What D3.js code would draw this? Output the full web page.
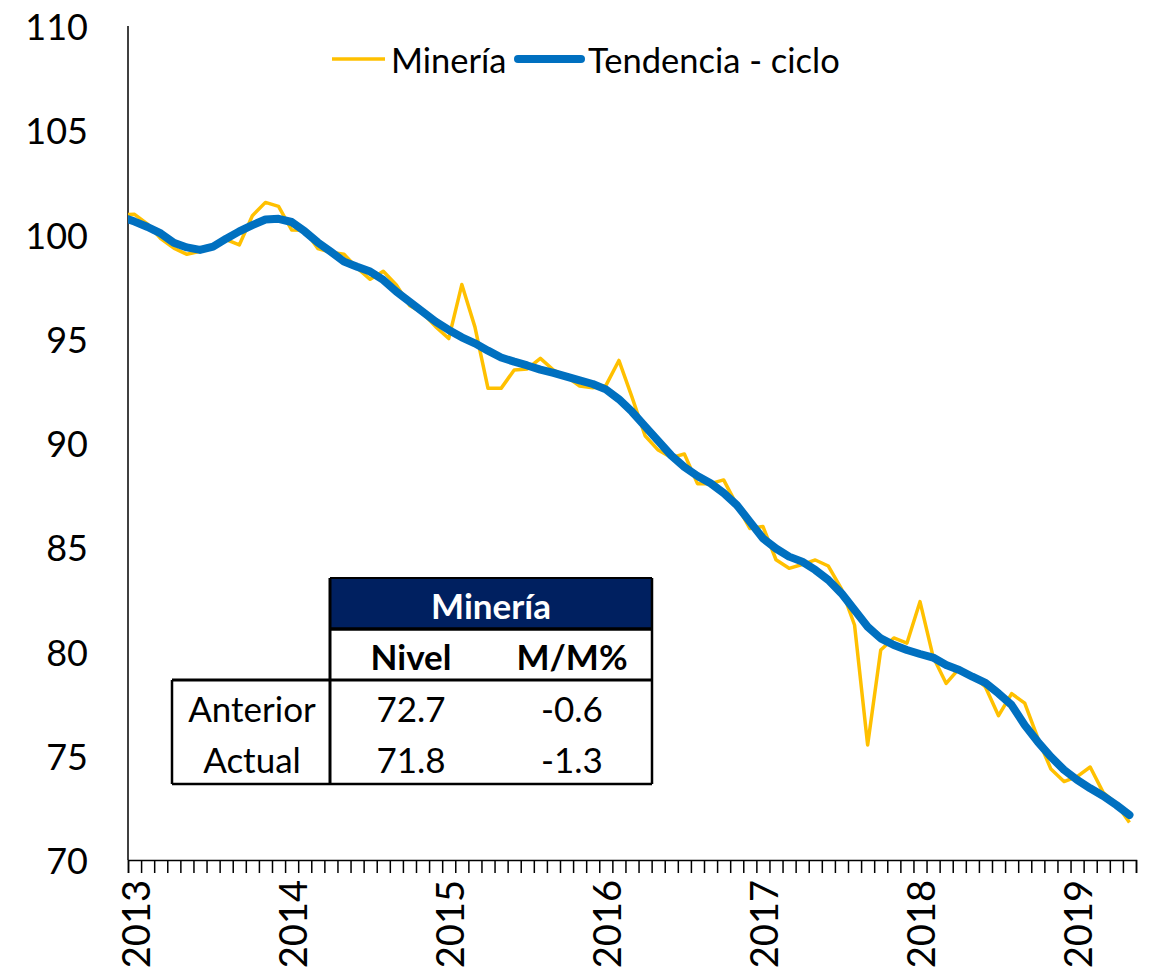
<!DOCTYPE html>
<html>
<head>
<meta charset="utf-8">
<script src="https://cdn.jsdelivr.net/npm/d3@7"></script>
<style>
  body { margin: 0; background: #fff; }
  text { font-family: Lato, "Open Sans", sans-serif; }
</style>
</head>
<body>
<svg id="chart" width="1152" height="976"></svg>
<script>
// monthly series, Dec 2012 .. May 2019 (first point sits left of the y axis and gets clipped)
const months = d3.timeMonth.range(new Date(2012, 11, 1), new Date(2019, 5, 1));

const mineria = [100.95,
  100.97, 100.5, 99.8, 99.35, 99.05, 99.2, 99.4, 99.75, 99.5, 100.9, 101.54, 101.35,
  100.22, 100.2, 99.33, 99.15, 99.05, 98.4, 97.85, 98.24, 97.58, 96.6, 96.25, 95.58,
  95.01, 97.6, 95.57, 92.62, 92.62, 93.5, 93.55, 94.06, 93.5, 93.18, 92.73, 92.65,
  92.75, 93.96, 92.2, 90.35, 89.66, 89.3, 89.47, 88.05, 88.05, 88.23, 87.03, 85.9,
  86.0, 84.4, 83.99, 84.17, 84.39, 84.1, 83.0, 81.27, 75.52, 80.07, 80.65, 80.4,
  82.39, 79.75, 78.47, 79.19, 78.85, 78.3, 76.92, 77.98, 77.52, 75.84, 74.36, 73.76,
  74.0, 74.46, 73.23, 72.7, 71.8];

const tendencia = [100.85,
  100.62, 100.36, 100.05, 99.6, 99.38, 99.26, 99.42, 99.8, 100.15, 100.45, 100.72, 100.75,
  100.6, 100.15, 99.62, 99.17, 98.7, 98.45, 98.22, 97.82, 97.26, 96.78, 96.3, 95.82,
  95.42, 95.07, 94.78, 94.43, 94.1, 93.9, 93.72, 93.52, 93.36, 93.18, 93.0, 92.83,
  92.57, 92.1, 91.5, 90.8, 90.1, 89.4, 88.85, 88.42, 88.07, 87.6, 87.03, 86.23,
  85.43, 84.94, 84.55, 84.31, 83.91, 83.43, 82.79, 81.99, 81.19, 80.63, 80.31, 80.07,
  79.88, 79.71, 79.35, 79.11, 78.79, 78.5, 77.99, 77.43, 76.47, 75.67, 74.95, 74.32,
  73.84, 73.44, 73.07, 72.64, 72.16];

const yTicks = [70, 75, 80, 85, 90, 95, 100, 105, 110];
const yearLabels = ["2013", "2014", "2015", "2016", "2017", "2018", "2019"];

const tableHeader = "Minería";
const tableCols = ["Nivel", "M/M%"];
const tableRows = ["Anterior", "Actual"];
const tableNivel = ["72.7", "71.8"];
const tableMM = ["-0.6", "-1.3"];

const YELLOW = "#FFC000", BLUE = "#0070C0", NAVY = "#002060";

const svg = d3.select("#chart");
const plotL = 128, plotR = 1136, plotT = 26, plotB = 860;

// month slots: slot 0 = Jan 2013, points sit in the middle of each slot
const nSlots = 77;
const x = d3.scaleLinear().domain([0, nSlots]).range([plotL, plotR]);
const y = d3.scaleLinear().domain([70, 110]).range([plotB, plotT]);
const slot = i => i - 1 + 0.5;   // data index -> slot center (index 0 = Dec 2012)

svg.append("defs").append("clipPath").attr("id", "plot")
  .append("rect").attr("x", plotL).attr("y", 0).attr("width", 1152 - plotL).attr("height", plotB + 10);

// y axis labels
svg.append("g").selectAll("text").data(yTicks).join("text")
  .attr("x", 88).attr("y", d => y(d))
  .attr("text-anchor", "end").attr("dominant-baseline", "central")
  .attr("font-size", 36).attr("fill", "#000").text(d => d);

// y axis line
svg.append("line").attr("x1", plotL).attr("x2", plotL).attr("y1", plotT).attr("y2", plotB)
  .attr("stroke", "#000").attr("stroke-width", 1.5);

// x axis with monthly ticks
const xAxis = d3.axisBottom(x).tickValues(d3.range(0, nSlots + 1)).tickSize(13).tickFormat("");
const gx = svg.append("g").attr("transform", `translate(0,${plotB})`).call(xAxis);
gx.select(".domain").attr("stroke", "#000").attr("stroke-width", 1.5);
gx.selectAll(".tick line").attr("stroke", "#000").attr("stroke-width", 1.5);

svg.append("g").selectAll("text").data(yearLabels).join("text")
  .attr("transform", (d, i) => `translate(${x(i * 12 + 0.5)},880) rotate(-90)`)
  .attr("text-anchor", "end").attr("dominant-baseline", "central")
  .attr("font-size", 38).attr("fill", "#000").text(d => d);

// lines
const line = d3.line().x((d, i) => x(slot(i))).y(d => y(d));
const plot = svg.append("g").attr("clip-path", "url(#plot)");
plot.append("path").datum(mineria).attr("d", line)
  .attr("fill", "none").attr("stroke", YELLOW).attr("stroke-width", 3.5)
  .attr("stroke-linejoin", "round");
plot.append("path").datum(tendencia).attr("d", line)
  .attr("fill", "none").attr("stroke", BLUE).attr("stroke-width", 8)
  .attr("stroke-linejoin", "round").attr("stroke-linecap", "round");

// legend
const lg = svg.append("g");
lg.append("line").attr("x1", 332).attr("x2", 385).attr("y1", 59).attr("y2", 59)
  .attr("stroke", YELLOW).attr("stroke-width", 3.5);
lg.append("text").attr("x", 391).attr("y", 59).attr("dominant-baseline", "central")
  .attr("font-size", 34.5).text("Minería");
lg.append("line").attr("x1", 518).attr("x2", 581).attr("y1", 59).attr("y2", 59)
  .attr("stroke", BLUE).attr("stroke-width", 8).attr("stroke-linecap", "round");
lg.append("text").attr("x", 588).attr("y", 59).attr("dominant-baseline", "central")
  .attr("font-size", 34.5).text("Tendencia - ciclo");

// summary table
const t = svg.append("g");
const tx0 = 172, tx1 = 330, tx2 = 652;
const ty0 = 578, ty1 = 629, ty2 = 680, ty3 = 784;
const cNivel = 411, cMM = 572, cLab = 252;
t.append("rect").attr("x", tx1).attr("y", ty0).attr("width", tx2 - tx1).attr("height", ty1 - ty0)
  .attr("fill", NAVY);
t.append("rect").attr("x", tx1).attr("y", ty1).attr("width", tx2 - tx1).attr("height", ty2 - ty1)
  .attr("fill", "#fff");
t.append("rect").attr("x", tx0).attr("y", ty2).attr("width", tx2 - tx0).attr("height", ty3 - ty2)
  .attr("fill", "#fff");
const seg = (x1, y1, x2, y2, w) => t.append("line")
  .attr("x1", x1).attr("y1", y1).attr("x2", x2).attr("y2", y2)
  .attr("stroke", "#000").attr("stroke-width", w);
seg(tx1, ty0, tx2, ty0, 2);
seg(tx1, ty1, tx2, ty1, 3.5);
seg(tx0, ty2, tx2, ty2, 3);
seg(tx0, ty3, tx2, ty3, 2.5);
seg(tx0, ty2, tx0, ty3, 2.5);
seg(tx1, ty0, tx1, ty3, 3);
seg(tx2, ty0, tx2, ty3, 2.5);

t.append("text").attr("x", (tx1 + tx2) / 2).attr("y", 605).attr("text-anchor", "middle")
  .attr("dominant-baseline", "central").attr("font-size", 35).attr("font-weight", "bold")
  .attr("fill", "#fff").text(tableHeader);
t.selectAll(".col").data(tableCols).join("text").attr("class", "col")
  .attr("x", (d, i) => i ? cMM : cNivel).attr("y", 656).attr("text-anchor", "middle")
  .attr("dominant-baseline", "central").attr("font-size", 35).attr("font-weight", "bold")
  .text(d => d);
t.selectAll(".row").data(tableRows).join("text").attr("class", "row")
  .attr("x", cLab).attr("y", (d, i) => 708 + i * 51).attr("text-anchor", "middle")
  .attr("dominant-baseline", "central").attr("font-size", 35).text(d => d);
t.selectAll(".niv").data(tableNivel).join("text").attr("class", "niv")
  .attr("x", cNivel).attr("y", (d, i) => 708 + i * 51).attr("text-anchor", "middle")
  .attr("dominant-baseline", "central").attr("font-size", 35).text(d => d);
t.selectAll(".mm").data(tableMM).join("text").attr("class", "mm")
  .attr("x", cMM).attr("y", (d, i) => 708 + i * 51).attr("text-anchor", "middle")
  .attr("dominant-baseline", "central").attr("font-size", 35).text(d => d);
</script>
</body>
</html>
